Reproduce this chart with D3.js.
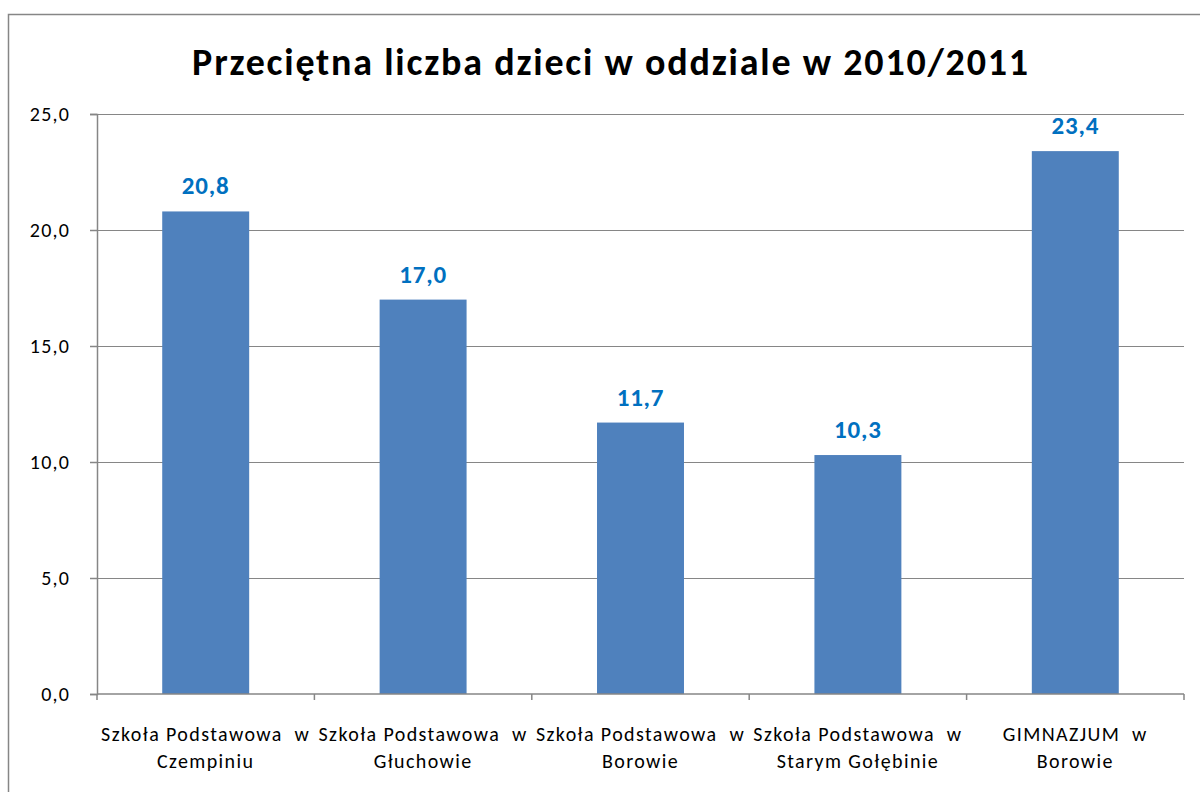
<!DOCTYPE html>
<html>
<head>
<meta charset="utf-8">
<script src="https://cdn.jsdelivr.net/npm/d3@7"></script>
<style>
  html, body { margin: 0; padding: 0; background: #fff; }
  svg { display: block; font-family: Carlito, Calibri, Lato, sans-serif; }
</style>
</head>
<body>
<div id="chart"></div>
<script>
// chart data
const title = 'Przeciętna liczba dzieci w oddziale w 2010/2011';
const categories = [
  ['Szkoła Podstawowa  w', 'Czempiniu'],
  ['Szkoła Podstawowa  w', 'Głuchowie'],
  ['Szkoła Podstawowa  w', 'Borowie'],
  ['Szkoła Podstawowa  w', 'Starym Gołębinie'],
  ['GIMNAZJUM  w', 'Borowie']
];
const values = [20.8, 17.0, 11.7, 10.3, 23.4];
const yTicks = [0, 5, 10, 15, 20, 25];

const fmt = v => v.toFixed(1).replace('.', ',');

const width = 1200, height = 792;
const margin = {top: 114, right: 16, bottom: 98, left: 97};
const innerW = width - margin.left - margin.right;
const innerH = height - margin.top - margin.bottom;

const svg = d3.select('#chart').append('svg')
    .attr('width', width)
    .attr('height', height);

// outer chart frame (runs off the right and bottom edge)
svg.append('rect')
    .attr('x', 8.5).attr('y', 14.5)
    .attr('width', 1210).attr('height', 800)
    .attr('fill', 'none')
    .attr('stroke', '#868686')
    .attr('stroke-width', 1.5);

svg.append('text')
    .attr('x', 611).attr('y', 75)
    .attr('text-anchor', 'middle')
    .attr('font-size', 38)
    .attr('font-weight', 'bold')
    .attr('letter-spacing', 1.8)
    .attr('fill', '#000')
    .text(title);

const chart = svg.append('g')
    .attr('transform', `translate(${margin.left},${margin.top})`);

const x = d3.scaleBand()
    .domain(d3.range(categories.length))
    .range([0, innerW])
    .paddingInner(0.6)
    .paddingOuter(0.3);

const y = d3.scaleLinear()
    .domain([0, 25])
    .range([innerH, 0]);

// gridlines
chart.selectAll('.grid')
    .data(yTicks.filter(d => d > 0))
  .join('line')
    .attr('class', 'grid')
    .attr('x1', 0).attr('x2', innerW)
    .attr('y1', d => Math.round(y(d)) + 0.5)
    .attr('y2', d => Math.round(y(d)) + 0.5)
    .attr('stroke', '#868686')
    .attr('stroke-width', 1.2);

// y axis
const yAxis = chart.append('g')
    .call(d3.axisLeft(y).tickValues(yTicks).tickFormat(fmt).tickSize(7).tickPadding(20));
yAxis.select('.domain').attr('stroke', '#868686').attr('stroke-width', 1.5);
yAxis.selectAll('.tick line').attr('stroke', '#868686').attr('stroke-width', 1.5);
yAxis.selectAll('.tick text')
    .attr('font-size', 20)
    .attr('letter-spacing', 1.2)
    .attr('font-family', 'Carlito, Calibri, Lato, sans-serif')
    .attr('fill', '#000');

// bars
chart.selectAll('.bar')
    .data(values)
  .join('rect')
    .attr('class', 'bar')
    .attr('x', (d, i) => x(i))
    .attr('y', d => y(d))
    .attr('width', x.bandwidth())
    .attr('height', d => innerH - y(d))
    .attr('fill', '#4F81BD');

// value labels
chart.selectAll('.val')
    .data(values)
  .join('text')
    .attr('class', 'val')
    .attr('x', (d, i) => x(i) + x.bandwidth() / 2)
    .attr('y', d => y(d) - 17)
    .attr('text-anchor', 'middle')
    .attr('font-size', 25)
    .attr('font-weight', 'bold')
    .attr('letter-spacing', 0.8)
    .attr('fill', '#0070C0')
    .text(fmt);

// x axis: baseline with ticks at category boundaries
const step = x.step();
const xAxis = chart.append('g').attr('transform', `translate(0,${innerH})`);
xAxis.append('line')
    .attr('x1', 0).attr('x2', innerW)
    .attr('y1', 0).attr('y2', 0)
    .attr('stroke', '#868686').attr('stroke-width', 1.5);
xAxis.selectAll('.xtick')
    .data(d3.range(categories.length + 1))
  .join('line')
    .attr('class', 'xtick')
    .attr('x1', i => i * step).attr('x2', i => i * step)
    .attr('y1', 0).attr('y2', 6)
    .attr('stroke', '#868686').attr('stroke-width', 1.5);

const labels = xAxis.selectAll('.xlabel')
    .data(categories)
  .join('text')
    .attr('class', 'xlabel')
    .attr('text-anchor', 'middle')
    .attr('font-size', 20)
    .attr('letter-spacing', 1.4)
    .attr('fill', '#000')
    .attr('transform', (d, i) => `translate(${x(i) + x.bandwidth() / 2},0)`);
labels.selectAll('tspan')
    .data(d => d)
  .join('tspan')
    .attr('x', 0)
    .attr('y', (d, j) => 47 + j * 27)
    .style('white-space', 'pre')
    .text(d => d);
</script>
</body>
</html>
